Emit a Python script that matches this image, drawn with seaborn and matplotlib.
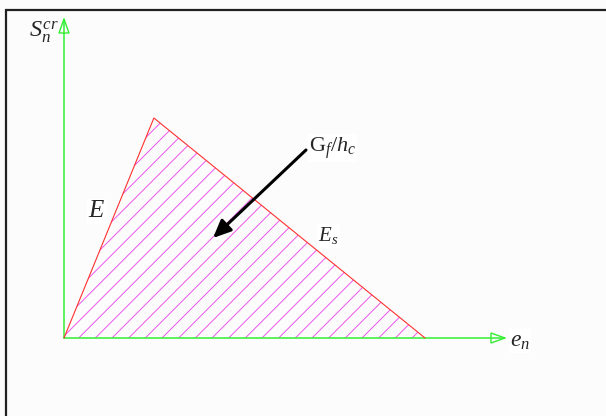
import matplotlib
matplotlib.use("Agg")
import matplotlib.pyplot as plt
from matplotlib.patches import Polygon, Rectangle
from matplotlib.transforms import IdentityTransform
import seaborn as sns

# Bilinear softening law: crack strain vs. crack normal stress (normalised)
strain = [0.0, 0.249, 1.0]
stress = [0.0, 1.0, 0.0]

x_label = r"$e_n$"
y_label = r"$S_n^{cr}$"
slope_up = r"$E$"
slope_down = r"$E_s$"
area_label = r"$\mathrm{G}_f/h_c$"

W, H = 606, 416
DPI = 100

sns.set_theme(style="white")
plt.rcParams["font.family"] = ["Liberation Serif", "DejaVu Serif"]
plt.rcParams["mathtext.fontset"] = "custom"
plt.rcParams["mathtext.rm"] = "Liberation Serif"
plt.rcParams["mathtext.it"] = "Liberation Serif:italic"
plt.rcParams["mathtext.bf"] = "Liberation Serif:bold"
plt.rcParams["hatch.linewidth"] = 0.7

fig = plt.figure(figsize=(W / DPI, H / DPI), dpi=DPI, facecolor="#fcfcfc")
ax = fig.add_axes([0, 0, 1, 1])
ax.set_facecolor("#fcfcfc")

# origin of the diagram in pixels and scale of one unit
ox, oy = 64, 338
sx, sy = 361, 220
ax.set_xlim(-ox / sx, (W - ox) / sx)
ax.set_ylim(-(H - oy) / sy, oy / sy)
ax.axis("off")


def px(x, y):
    """pixel (from top-left) -> display coordinates"""
    return (x, H - y)


# hatched fracture-energy area
ax.fill(strain, stress, fill=False, hatch="//", edgecolor="#ee55ee", lw=0, zorder=1)

# softening curve
sns.lineplot(x=strain, y=stress, sort=False, color="#ff3030", lw=0.8,
             estimator=None, ax=ax, zorder=3)

# green coordinate axes with open arrowheads
green = "#33ee33"
x_tip = (505 - ox) / sx
y_tip = (oy - 19) / sy
ax.plot([0, x_tip], [0, 0], color=green, lw=1.1, zorder=2)
ax.plot([0, 0], [0, y_tip], color=green, lw=1.1, zorder=2)
hl, hw = 14, 5
ax.add_patch(Polygon([(x_tip, 0), (x_tip - hl / sx, hw / sy), (x_tip - hl / sx, -hw / sy)],
                     closed=True, fill=False, ec=green, lw=1.0, zorder=2))
ax.add_patch(Polygon([(0, y_tip), (hw / sx, y_tip - hl / sy), (-hw / sx, y_tip - hl / sy)],
                     closed=True, fill=False, ec=green, lw=1.0, zorder=2))

tr = IdentityTransform()
ax.text(*px(29, 32), y_label, transform=tr, fontsize=17.5, ha="left", va="center")
ax.text(*px(510, 341), x_label, transform=tr, fontsize=17, ha="left", va="center",
        bbox=dict(fc="white", ec="none", pad=1))
ax.text(*px(97, 211), slope_up, transform=tr, fontsize=18, ha="center", va="center",
        bbox=dict(fc="white", ec="none", pad=1))
ax.text(*px(318, 236), slope_down, transform=tr, fontsize=15, ha="left", va="center",
        bbox=dict(fc="white", ec="none", pad=1))
ax.text(*px(309, 148), area_label, transform=tr, fontsize=16, ha="left", va="center",
        bbox=dict(fc="white", ec="none", pad=1))

# arrow pointing into the hatched area
ax.annotate("", xy=px(213, 238), xycoords=tr, xytext=px(306, 150), textcoords=tr,
            arrowprops=dict(arrowstyle="-|>,head_length=0.9,head_width=0.4",
                            color="black", lw=2.2, shrinkA=0, shrinkB=0), zorder=4)

# outer frame (runs off the canvas on the right and bottom)
fig.patches.append(Rectangle((6, -20), W + 40, H - 10 + 20, transform=tr,
                             fill=False, ec="#202020", lw=1.6))

fig.savefig("out.png", dpi=DPI, facecolor=fig.get_facecolor())
